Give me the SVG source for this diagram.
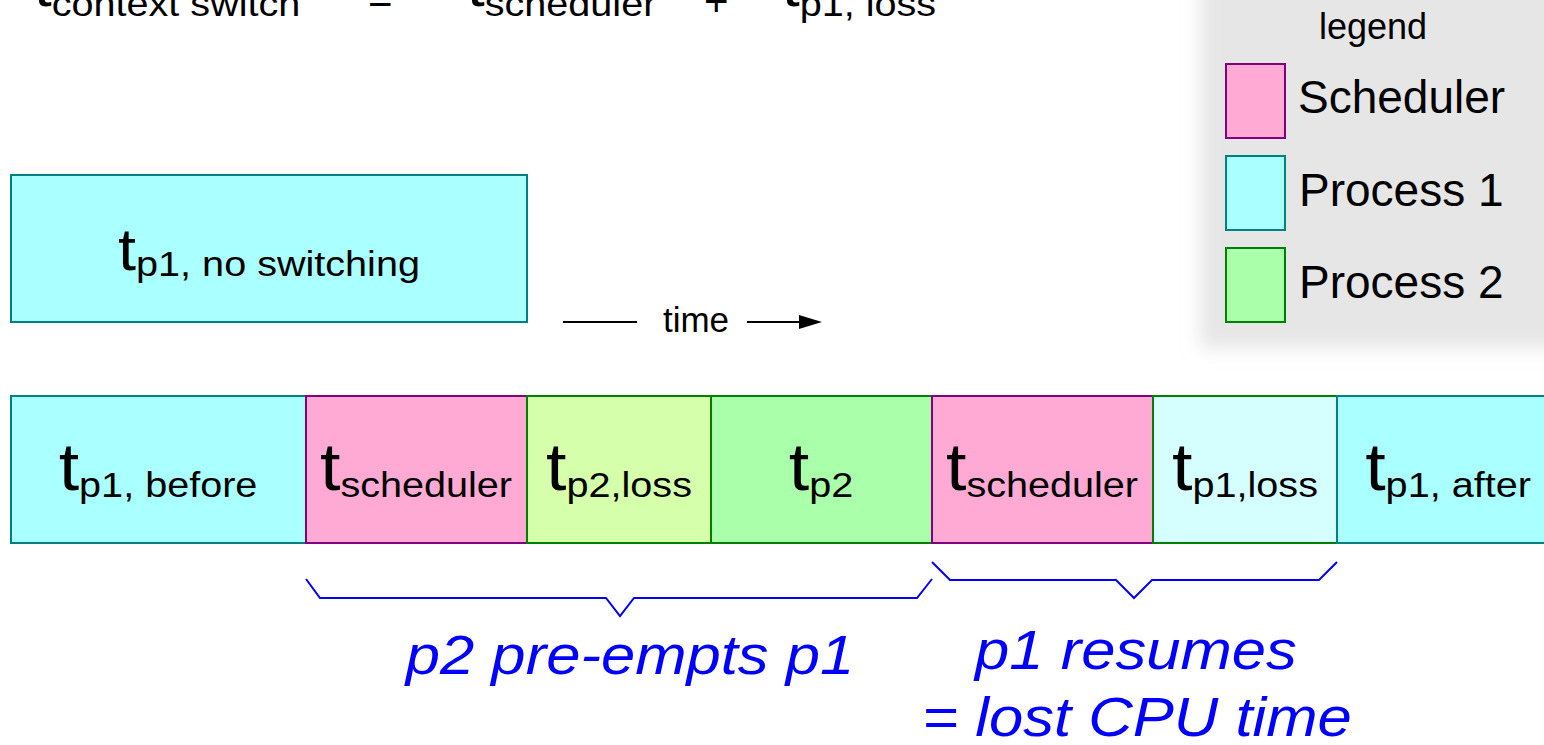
<svg xmlns="http://www.w3.org/2000/svg" width="1544" height="745" viewBox="0 0 1544 745">
<defs>
<style>
text{font-family:"Liberation Sans",Arial,sans-serif;fill:#000}
.p1{fill:#aaffff;stroke:#008080;stroke-width:2}
.p1l{fill:#d5ffff;stroke:#008000;stroke-width:2}
.sch{fill:#ffaad4;stroke:#800080;stroke-width:2}
.p2{fill:#aaffaa;stroke:#008000;stroke-width:2}
.p2l{fill:#d5ffaa;stroke:#008000;stroke-width:2}
.tl{font-size:67px;text-anchor:middle}
.brace{fill:none;stroke:#0000ff;stroke-width:2}
.note{font-size:56px;font-style:italic;fill:#0000ff;text-anchor:middle}
.leg{font-size:46px}
</style>
<filter id="soft" x="-20%" y="-20%" width="140%" height="140%"><feGaussianBlur stdDeviation="9"/></filter>
</defs>
<rect width="1544" height="745" fill="#fff"/>

<g id="formula">
<text transform="translate(34,0) scale(1.1,1)" font-size="58" y="6">t<tspan font-size="36" dy="10">context switch</tspan></text>
<text x="368" y="13" font-size="42">=</text>
<text transform="translate(467,0) scale(1.1,1)" font-size="58" y="6">t<tspan font-size="36" dy="10">scheduler</tspan></text>
<text x="704" y="16" font-size="42">+</text>
<text transform="translate(782,0) scale(1.1,1)" font-size="58" y="6">t<tspan font-size="36" dy="10">p1, loss</tspan></text>
</g>

<g id="legend">
<rect x="1200" y="-30" width="380" height="378" fill="#e6e6e6" filter="url(#soft)"/>
<text x="1373" y="39" font-size="36" text-anchor="middle">legend</text>
<rect x="1226" y="64" width="59" height="74" class="sch"/>
<text x="1298" y="113" class="leg">Scheduler</text>
<rect x="1226" y="156" width="59" height="74" class="p1"/>
<text x="1299" y="206" class="leg">Process 1</text>
<rect x="1226" y="248" width="59" height="74" class="p2"/>
<text x="1299" y="298" class="leg">Process 2</text>
</g>

<g id="no-switching">
<rect x="11" y="175" width="516" height="147" class="p1"/>
<text transform="translate(269,0) scale(1.1,1)" font-size="59" y="270" text-anchor="middle">t<tspan font-size="36" dy="6">p1, no switching</tspan></text>
</g>

<g id="p1-before">
<rect x="11" y="396" width="295" height="147" class="p1"/>
<text class="tl" transform="translate(158,0) scale(1.1,1)" y="490">t<tspan font-size="36" dy="7">p1, before</tspan></text>
</g>
<g id="scheduler-1">
<rect x="306" y="396" width="221" height="147" class="sch"/>
<text class="tl" transform="translate(416,0) scale(1.1,1)" y="490">t<tspan font-size="36" dy="7">scheduler</tspan></text>
</g>
<g id="p2-loss">
<rect x="527" y="396" width="184" height="147" class="p2l"/>
<text class="tl" transform="translate(619,0) scale(1.1,1)" y="490">t<tspan font-size="36" dy="7">p2,loss</tspan></text>
</g>
<g id="p2">
<rect x="711" y="396" width="221" height="147" class="p2"/>
<text class="tl" transform="translate(821,0) scale(1.1,1)" y="490">t<tspan font-size="36" dy="7">p2</tspan></text>
</g>
<g id="scheduler-2">
<rect x="932" y="396" width="221" height="147" class="sch"/>
<text class="tl" transform="translate(1042,0) scale(1.1,1)" y="490">t<tspan font-size="36" dy="7">scheduler</tspan></text>
</g>
<g id="p1-loss">
<rect x="1153" y="396" width="184" height="147" class="p1l"/>
<text class="tl" transform="translate(1245,0) scale(1.1,1)" y="490">t<tspan font-size="36" dy="7">p1,loss</tspan></text>
</g>
<g id="p1-after">
<rect x="1337" y="396" width="220" height="147" class="p1"/>
<text class="tl" transform="translate(1448,0) scale(1.1,1)" y="490">t<tspan font-size="36" dy="7">p1, after</tspan></text>
</g>

<g id="connectors">
<line x1="563" y1="322" x2="637" y2="322" stroke="#000" stroke-width="2"/>
<line x1="747" y1="322" x2="802" y2="322" stroke="#000" stroke-width="2"/>
<polygon points="799,315 822,322 799,329" fill="#000"/>
<text x="696" y="332" font-size="35" text-anchor="middle">time</text>
<path class="brace" d="M306,579 L320,598 L606,598 L620,616 L634,598 L917,598 L932,579"/>
<path class="brace" d="M932,562 L950,580 L1116,580 L1134,598 L1152,580 L1319,580 L1337,562"/>
</g>

<g id="notes">
<text class="note" transform="translate(630,0) scale(1.1,1)" y="674">p2 pre-empts p1</text>
<text class="note" transform="translate(1136,0) scale(1.1,1)" y="669">p1 resumes</text>
<text class="note" transform="translate(1137,0) scale(1.1,1)" y="736">= lost CPU time</text>
</g>
</svg>
